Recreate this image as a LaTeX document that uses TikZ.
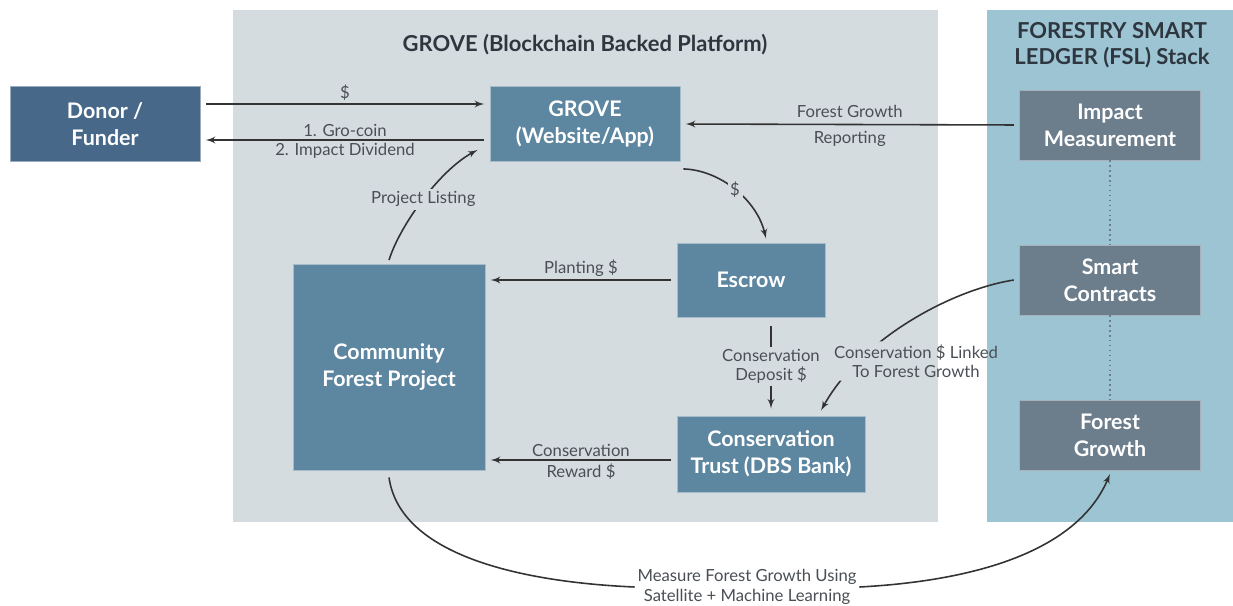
\documentclass[tikz,border=0pt]{standalone}
\usepackage{fontspec}
\setmainfont{Lato}
\usepackage{tikz}
\usetikzlibrary{arrows, positioning}

\definecolor{panelgrey}{HTML}{D5DCE0}
\definecolor{panelblue}{HTML}{9DC4D2}
\definecolor{donorblue}{HTML}{476889}
\definecolor{boxblue}{HTML}{5D86A0}
\definecolor{stackgrey}{HTML}{6C7D8C}
\definecolor{labelgrey}{HTML}{4A4F55}
\definecolor{titlegrey}{HTML}{2E3640}

\begin{document}
\begin{tikzpicture}[x=0.02cm, y=-0.02cm,
	box/.style={rectangle, fill=boxblue, draw=boxblue!55!white, line width=0.5pt, text=white, align=center, inner sep=0pt, font=\fontsize{12.2}{15.5}\selectfont\bfseries},
	stackbox/.style={box, fill=stackgrey, draw=stackgrey!60!white, minimum width=3.62cm, minimum height=1.4cm},
	lbl/.style={text=labelgrey, align=center, inner sep=1.5pt, font=\fontsize{9.5}{11}\selectfont},
	heading/.style={text=titlegrey, align=center, font=\fontsize{12.5}{14.5}\selectfont\bfseries},
	flow/.style={draw=black!80, line width=0.9pt, -latex'}
]

\useasboundingbox (0,0) rectangle (1233,605);

% panels
\fill [panelgrey] (233,10) rectangle (938,522);
\fill [panelblue] (987,10) rectangle (1233,522);

\node [heading] (platform) at (585,45) {GROVE (Blockchain Backed Platform)};
\node [heading] (stack) at (1112,45) {FORESTRY SMART\\LEDGER (FSL) Stack};

\node [box, fill=donorblue, draw=donorblue!55!white, minimum width=3.8cm, minimum height=1.5cm] (donor) at (105,124) {Donor /\\Funder};
\node [box, minimum width=3.8cm, minimum height=1.5cm] (grove) at (585,124) {GROVE\\(Website/App)};
\node [box, minimum width=2.96cm, minimum height=1.48cm] (escrow) at (751,280) {Escrow};
\node [box, minimum width=3.76cm, minimum height=1.52cm] (trust) at (771,454) {Conservation\\Trust (DBS Bank)};
\node [box, minimum width=3.84cm, minimum height=4.12cm] (community) at (389,367) {Community\\Forest Project};

\node [stackbox] (impact) at (1110,125) {Impact\\Measurement};
\node [stackbox] (smart) at (1110,280) {Smart\\Contracts};
\node [stackbox] (growth) at (1110,435) {Forest\\Growth};

\path [draw, dotted, line width=0.8pt, stackgrey] (impact.south) -- (smart.north) (smart.south) -- (growth.north);

% money in and out
\path [flow, shorten <=3pt, shorten >=3pt] ([yshift=0.4cm]donor.east) -- node [lbl, above] {\$} ([yshift=0.4cm]grove.west);
\path [flow, shorten <=3pt, shorten >=3pt] ([yshift=-0.32cm]grove.west) --
	node [lbl, above] {1. Gro-coin}
	node [lbl, below] {2. Impact Dividend} ([yshift=-0.32cm]donor.east);
\path [flow, shorten <=3pt, shorten >=3pt] (impact.west) --
	node [lbl, above=2pt] {Forest Growth}
	node [lbl, below=2pt] {Reporting} (grove.east);

\path [flow] ([shift={(3,7)}]grove.south east) .. controls (720,170) and (757,200) .. node [lbl, fill=panelgrey] {\$} ([shift={(15,-4)}]escrow.north);
\path [flow] ([yshift=2pt]community.north) .. controls (400,225) and (440,170) .. node [lbl, fill=panelgrey] {Project Listing} ([shift={(-12,-12)}]grove.south west);

\path [flow, shorten <=3pt, shorten >=3pt] (escrow.west) -- node [lbl, above] {Planting \$} (community.east |- escrow.west);
\path [flow, shorten <=3pt, shorten >=3pt] ([yshift=-0.12cm]trust.west) --
	node [lbl, above] {Conservation}
	node [lbl, below] {Reward \$} ([yshift=-0.12cm]community.east |- trust.west);
\path [flow, shorten <=5pt, shorten >=4pt] ([xshift=0.4cm]escrow.south) -- node [lbl, fill=panelgrey] {Conservation\\Deposit \$} (trust.north);

% link from the smart contracts
\node [lbl] (linked) at (916,361) {Conservation \$ Linked\\To Forest Growth};
\begin{scope}[even odd rule]
\clip (0,0) rectangle (1233,605) (linked.south west) rectangle (linked.north east);
\path [flow] ([xshift=-3pt]smart.west) .. controls (950,290) and (860,340) .. ([shift={(50,-5)}]trust.north);
\end{scope}

% satellite measurement
\node [lbl, fill=white] (measure) at (747,587) {Measure Forest Growth Using\\Satellite + Machine Learning};
\path [draw=black!80, line width=0.9pt] ([yshift=-4pt]community.south) .. controls (400,555) and (520,582) .. (measure.west);
\path [flow] (measure.east) .. controls (990,580) and (1080,545) .. ([yshift=-2pt]growth.south);

\end{tikzpicture}
\end{document}
